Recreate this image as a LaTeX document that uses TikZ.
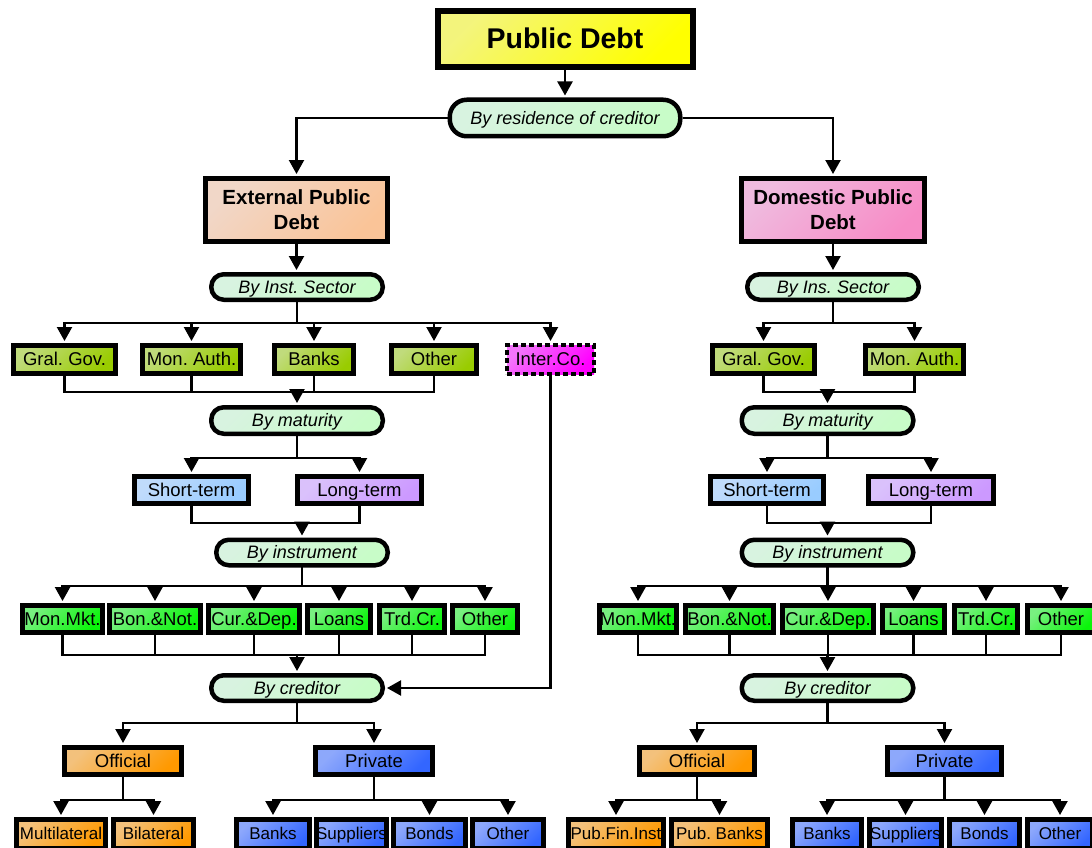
\documentclass[tikz,border=0pt]{standalone}
\usepackage{fontspec}
\setmainfont{Liberation Sans}
\usetikzlibrary{arrows.meta}
\definecolor{cTL}{RGB}{232,234,248}
\definecolor{cY}{RGB}{255,255,0}
\definecolor{cExt}{RGB}{250,196,152}
\definecolor{cDom}{RGB}{247,140,198}
\definecolor{cPill}{RGB}{200,252,200}
\definecolor{cOl}{RGB}{153,204,0}
\definecolor{cMag}{RGB}{255,0,255}
\definecolor{cSky}{RGB}{153,204,255}
\definecolor{cLav}{RGB}{204,153,255}
\definecolor{cGr}{RGB}{10,245,10}
\definecolor{cOr}{RGB}{255,153,0}
\definecolor{cBl}{RGB}{51,102,255}
\tikzset{
  conn/.style={draw=black, line width=2.2pt, line cap=rect},
  arr/.style={draw=black, line width=2.2pt, -{Triangle[width=15pt,length=14pt]}, shorten >=2pt},
  grad/.style={top color=#1!50!cTL, middle color=#1, bottom color=#1, shading angle=45},
  wh/.style 2 args={minimum width=#1pt, minimum height=#2pt},
  box/.style={draw=black, line width=5pt, rectangle, inner sep=0pt, text=black,
    text height=13.3pt, text depth=0.6pt, font=\fontsize{18.5}{20}\selectfont},
  sbox/.style={box, text height=12.2pt, text depth=0.6pt, font=\fontsize{17}{19}\selectfont},
  big/.style={draw=black, line width=5pt, rectangle, inner sep=0pt, align=center, text=black,
    font=\bfseries\fontsize{20.5}{25}\selectfont},
  pill/.style={draw=black, line width=4.5pt, rounded corners=12.5pt, inner sep=0pt, grad=cPill,
    text=black, text height=12.9pt, text depth=0.6pt, font=\itshape\fontsize{18}{20}\selectfont,
    wh={171.5}{25.5}},
}
\begin{document}
\frenchspacing
\begin{tikzpicture}[x=1pt,y=-1pt]
\useasboundingbox (0,0) rectangle (1092,848);
\clip (0,0) rectangle (1092,848);

% top
\node[big, grad=cY, wh={255}{56}, line width=6pt, text height=20.6pt, text depth=0.6pt, font=\bfseries\fontsize{28.5}{32}\selectfont] (pd) at (565,39) {Public Debt};
\node[pill, wh={230.5}{36.5}, rounded corners=17pt] (res) at (565,118) {By residence of creditor};
\node[big, grad=cExt, wh={182}{63}] (ext) at (296.5,210) {External Public\\Debt};
\node[big, grad=cDom, wh={183}{63}] (dom) at (833,210) {Domestic Public\\Debt};
\node[pill] (sec) at (297,287) {By Inst. Sector};
\node[pill] (sec2) at (833,287) {By Ins. Sector};

% institutional sector
\node[box, grad=cOl, wh={102}{28}] (gg) at (64.5,359.5) {Gral. Gov.};
\node[box, grad=cOl, wh={98}{28}] (ma) at (191.5,359.5) {Mon. Auth.};
\node[box, grad=cOl, wh={79}{28}] (bk) at (314,359.5) {Banks};
\node[box, grad=cOl, wh={85}{28}] (ot) at (434,359.5) {Other};
\node[box, grad=cMag, wh={87}{29}, line width=4pt, dash pattern=on 5pt off 3pt] (ic) at (550.5,359.5) {Inter.Co.};
\node[box, grad=cOl, wh={102}{28}] (gg2) at (763.5,359.5) {Gral. Gov.};
\node[box, grad=cOl, wh={98}{28}] (ma2) at (914.5,359.5) {Mon. Auth.};

% maturity
\node[pill, wh={171.5}{26.5}] (mat) at (297,420.5) {By maturity};
\node[pill, wh={171.5}{26.5}] (mat2) at (827.5,420.5) {By maturity};
\node[box, grad=cSky, wh={114}{27}] (st) at (191.5,490) {Short-term};
\node[box, grad=cLav, wh={124}{27}] (lt) at (359.5,490) {Long-term};
\node[box, grad=cSky, wh={113}{27}] (st2) at (767,490) {Short-term};
\node[box, grad=cLav, wh={125}{27}] (lt2) at (931,490) {Long-term};

% instrument
\node[pill] (inst) at (302,552.5) {By instrument};
\node[pill] (inst2) at (827.5,552.5) {By instrument};
\node[box, grad=cGr, wh={80}{27}] (mm) at (62.5,619) {Mon.Mkt.};
\node[box, grad=cGr, wh={91}{27}] (bn) at (155,619) {Bon.\&Not.};
\node[box, grad=cGr, wh={91}{27}] (cd) at (254,619) {Cur.\&Dep.};
\node[box, grad=cGr, wh={63}{27}] (lo) at (339,619) {Loans};
\node[box, grad=cGr, wh={65}{27}] (tc) at (412,619) {Trd.Cr.};
\node[box, grad=cGr, wh={65}{27}] (oi) at (485,619) {Other};
\node[box, grad=cGr, wh={75}{27}] (mm2) at (638,619) {Mon.Mkt.};
\node[box, grad=cGr, wh={88}{27}] (bn2) at (729.5,619) {Bon.\&Not.};
\node[box, grad=cGr, wh={91}{27}] (cd2) at (828,619) {Cur.\&Dep.};
\node[box, grad=cGr, wh={62}{27}] (lo2) at (913.5,619) {Loans};
\node[box, grad=cGr, wh={63}{27}] (tc2) at (986,619) {Trd.Cr.};
\node[box, grad=cGr, wh={67}{27}] (oi2) at (1061,619) {Other};

% creditor
\node[pill] (cred) at (297,688) {By creditor};
\node[pill] (cred2) at (827.5,688) {By creditor};
\node[box, grad=cOr, wh={117}{27}] (off) at (123,761) {Official};
\node[box, grad=cBl, wh={117}{27}] (priv) at (374,761) {Private};
\node[box, grad=cOr, wh={115}{27}] (off2) at (697,761) {Official};
\node[box, grad=cBl, wh={114}{27}] (priv2) at (944.5,761) {Private};

% bottom row
\node[sbox, grad=cOr, wh={89}{29}] (mul) at (61,834) {Multilateral};
\node[sbox, grad=cOr, wh={80}{29}] (bil) at (153.5,834) {Bilateral};
\node[sbox, grad=cBl, wh={73}{29}] (pb) at (273,834) {Banks};
\node[sbox, grad=cBl, wh={70}{29}] (psu) at (351.5,834) {Suppliers};
\node[sbox, grad=cBl, wh={72}{29}] (pbo) at (429.5,834) {Bonds};
\node[sbox, grad=cBl, wh={71}{29}] (pot) at (508,834) {Other};
\node[sbox, grad=cOr, wh={95}{29}] (pfi) at (616,834) {Pub.Fin.Inst};
\node[sbox, grad=cOr, wh={96}{29}] (pbk) at (719.5,834) {Pub. Banks};
\node[sbox, grad=cBl, wh={69}{29}] (b2) at (827,834) {Banks};
\node[sbox, grad=cBl, wh={72}{29}] (su2) at (905.5,834) {Suppliers};
\node[sbox, grad=cBl, wh={70}{29}] (bo2) at (984.5,834) {Bonds};
\node[sbox, grad=cBl, wh={65}{29}] (ot4) at (1060,834) {Other};

% ---------- connectors ----------
\draw[arr] (pd.south) -- (res.north);
\draw[arr] (res.west) -| (ext.north);
\draw[arr] (res.east) -| (dom.north);
\draw[arr] (ext.south) -- (ext.south |- sec.north);
\draw[arr] (dom.south) -- (sec2.north);

% left sector
\draw[conn] (sec.south) -- (sec.south |- 0,323);
\draw[conn] (gg.north |- 0,323) -- (ic.north |- 0,323);
\foreach \n in {gg,ma,bk,ot,ic} \draw[arr] (\n.north |- 0,323) -- (\n.north);
\foreach \n in {gg,ma,bk,ot} \draw[conn] (\n.south) -- (\n.south |- 0,392);
\draw[conn] (gg.south |- 0,392) -- (ot.south |- 0,392);
\draw[arr] (mat.north |- 0,392) -- (mat.north);
% right sector
\draw[conn] (sec2.south) -- (sec2.south |- 0,323);
\draw[conn] (gg2.north |- 0,323) -- (ma2.north |- 0,323);
\foreach \n in {gg2,ma2} \draw[arr] (\n.north |- 0,323) -- (\n.north);
\foreach \n in {gg2,ma2} \draw[conn] (\n.south) -- (\n.south |- 0,392);
\draw[conn] (gg2.south |- 0,392) -- (ma2.south |- 0,392);
\draw[arr] (mat2.north |- 0,392) -- (mat2.north);

% maturity left / right
\draw[conn] (mat.south) -- (mat.south |- 0,458);
\draw[conn] (st.north |- 0,458) -- (lt.north |- 0,458);
\foreach \n in {st,lt} \draw[arr] (\n.north |- 0,458) -- (\n.north);
\foreach \n in {st,lt} \draw[conn] (\n.south) -- (\n.south |- 0,523);
\draw[conn] (st.south |- 0,523) -- (lt.south |- 0,523);
\draw[arr] (inst.north |- 0,523) -- (inst.north);
\draw[conn] (mat2.south) -- (mat2.south |- 0,458);
\draw[conn] (st2.north |- 0,458) -- (lt2.north |- 0,458);
\foreach \n in {st2,lt2} \draw[arr] (\n.north |- 0,458) -- (\n.north);
\foreach \n in {st2,lt2} \draw[conn] (\n.south) -- (\n.south |- 0,523);
\draw[conn] (st2.south |- 0,523) -- (lt2.south |- 0,523);
\draw[arr] (inst2.north |- 0,523) -- (inst2.north);

% instrument left / right
\draw[conn] (inst.south) -- (inst.south |- 0,586);
\draw[conn] (mm.north |- 0,586) -- (oi.north |- 0,586);
\foreach \n in {mm,bn,cd,lo,tc,oi} \draw[arr] (\n.north |- 0,586) -- (\n.north);
\foreach \n in {mm,bn,cd,lo,tc,oi} \draw[conn] (\n.south) -- (\n.south |- 0,655);
\draw[conn] (mm.south |- 0,655) -- (oi.south |- 0,655);
\draw[arr] (cred.north |- 0,655) -- (cred.north);
\draw[conn] (inst2.south) -- (inst2.south |- 0,586);
\draw[conn] (mm2.north |- 0,586) -- (oi2.north |- 0,586);
\foreach \n in {mm2,bn2,cd2,lo2,tc2,oi2} \draw[arr] (\n.north |- 0,586) -- (\n.north);
\foreach \n in {mm2,bn2,cd2,lo2,tc2,oi2} \draw[conn] (\n.south) -- (\n.south |- 0,655);
\draw[conn] (mm2.south |- 0,655) -- (oi2.south |- 0,655);
\draw[arr] (cred2.north |- 0,655) -- (cred2.north);

% inter-company link
\draw[arr] (ic.south) |- (cred.east);

% creditor left
\draw[conn] (cred.south) -- (cred.south |- 0,723);
\draw[conn] (off.north |- 0,723) -- (priv.north |- 0,723);
\foreach \n in {off,priv} \draw[arr] (\n.north |- 0,723) -- (\n.north);
\draw[conn] (off.south) -- (off.south |- 0,800);
\draw[conn] (mul.north |- 0,800) -- (bil.north |- 0,800);
\foreach \n in {mul,bil} \draw[arr] (\n.north |- 0,800) -- (\n.north);
\draw[conn] (priv.south) -- (priv.south |- 0,800);
\draw[conn] (pb.north |- 0,800) -- (pot.north |- 0,800);
\foreach \n in {pb,pbo,pot} \draw[arr] (\n.north |- 0,800) -- (\n.north);
% creditor right
\draw[conn] (cred2.south) -- (cred2.south |- 0,723);
\draw[conn] (off2.north |- 0,723) -- (priv2.north |- 0,723);
\foreach \n in {off2,priv2} \draw[arr] (\n.north |- 0,723) -- (\n.north);
\draw[conn] (off2.south) -- (off2.south |- 0,800);
\draw[conn] (pfi.north |- 0,800) -- (pbk.north |- 0,800);
\foreach \n in {pfi,pbk} \draw[arr] (\n.north |- 0,800) -- (\n.north);
\draw[conn] (priv2.south) -- (priv2.south |- 0,800);
\draw[conn] (b2.north |- 0,800) -- (ot4.north |- 0,800);
\foreach \n in {b2,su2,bo2,ot4} \draw[arr] (\n.north |- 0,800) -- (\n.north);
\end{tikzpicture}
\end{document}
